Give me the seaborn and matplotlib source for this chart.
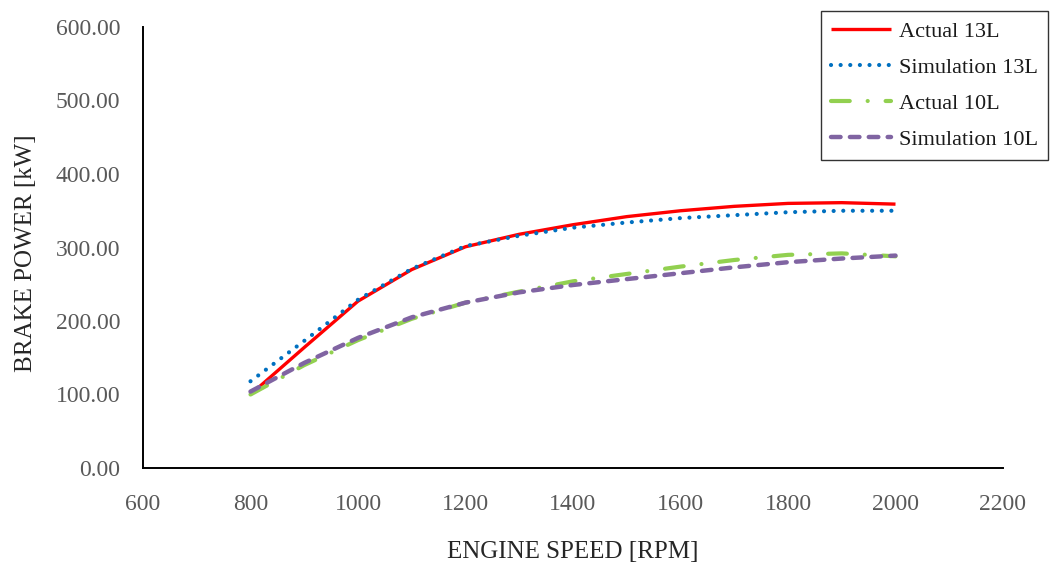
import matplotlib
matplotlib.use("Agg")
import matplotlib.pyplot as plt
import seaborn as sns
import pandas as pd
from matplotlib.ticker import MultipleLocator, FormatStrFormatter

# ---- data ----
rpm = [800, 900, 1000, 1100, 1200, 1300, 1400, 1500, 1600, 1700, 1800, 1900, 2000]
actual_13l = [100, 164, 227, 270, 301, 318, 331, 342, 350, 356, 360, 361, 359]
simulation_13l = [118, 173, 229, 271, 302, 316, 327, 334, 340, 344, 348, 350, 350]
actual_10l = [100, 140, 174, 203, 225, 240, 254, 264, 274, 283, 290, 292, 288]
simulation_10l = [104, 143, 177, 205, 225, 239, 249, 257, 265, 273, 280, 285, 289]

series_names = ["Actual 13L", "Simulation 13L", "Actual 10L", "Simulation 10L"]
series_values = [actual_13l, simulation_13l, actual_10l, simulation_10l]

x_label = "ENGINE SPEED [RPM]"
y_label = "BRAKE POWER [kW]"

# ---- style ----
sns.set_style("white")
plt.rcParams["font.family"] = ["Liberation Serif", "DejaVu Serif"]

fig = plt.figure(figsize=(10.61, 5.63), dpi=100)
ax = fig.add_axes([143 / 1061, 1 - 468 / 563, 860 / 1061, 441 / 563])

styles = [
    dict(color="#FF0000", lw=2.4, linestyle="-", solid_capstyle="butt", solid_joinstyle="round"),
    dict(color="#0070C0", lw=3.0, linestyle=(0, (0.01, 2.3)), dash_capstyle="round"),
    dict(color="#92D050", lw=3.0, linestyle=(0, (4.5, 4.3, 0.01, 4.3)), dash_capstyle="round"),
    dict(color="#8064A2", lw=3.2, linestyle=(0, (2.15, 2.1)), dash_capstyle="round"),
]

for name, vals, st in zip(series_names, series_values, styles):
    df = pd.DataFrame({"rpm": rpm, "kw": vals})
    sns.lineplot(data=df, x="rpm", y="kw", ax=ax, label=name, **st)

ax.set_xlim(600, 2200)
ax.set_ylim(0, 600)
ax.xaxis.set_major_locator(MultipleLocator(200))
ax.yaxis.set_major_locator(MultipleLocator(100))
ax.yaxis.set_major_formatter(FormatStrFormatter("%.2f"))

ax.tick_params(axis="both", length=0, labelsize=17, colors="#595959")
ax.tick_params(axis="y", pad=16.5)
ax.tick_params(axis="x", pad=19)

for s in ["top", "right"]:
    ax.spines[s].set_visible(False)
for s in ["left", "bottom"]:
    ax.spines[s].set_color("#000000")
    ax.spines[s].set_linewidth(1.4)

ax.set_xlabel(x_label, fontsize=18, color="#262626")
ax.set_ylabel(y_label, fontsize=18, color="#262626")
ax.xaxis.label.set_va("baseline")
ax.xaxis.set_label_coords(0.5, (468 - 558) / 441)
ax.yaxis.label.set_va("baseline")
ax.yaxis.label.set_ha("center")
ax.yaxis.set_label_coords((32 - 143) / 860, (468 - 253) / 441)

leg = ax.legend(
    loc="upper left",
    bbox_to_anchor=(821 / 1061, 1 - 11 / 563),
    bbox_transform=fig.transFigure,
    fontsize=16,
    frameon=True,
    fancybox=False,
    edgecolor="#000000",
    borderpad=0.45,
    handlelength=2.7,
    handletextpad=0.36,
    labelspacing=0.7,
    borderaxespad=0,
)
leg.get_frame().set_linewidth(1.0)
for t in leg.get_texts():
    t.set_color("#1a1a1a")

fig.savefig("out.png", dpi=100)
